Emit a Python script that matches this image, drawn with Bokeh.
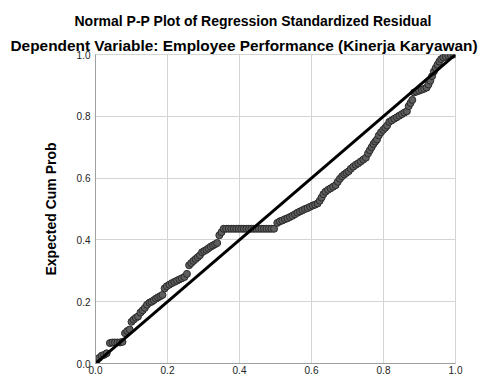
from bokeh.plotting import figure
from bokeh.models import Title, FixedTicker, Range1d
from bokeh.embed import file_html
from bokeh.resources import INLINE

# Observed cumulative probability (x) and expected cumulative probability (y)
observed_cum_prob = [
    0.003, 0.010, 0.017, 0.024, 0.031,
    0.040, 0.047, 0.054, 0.061, 0.068, 0.075,
    0.082, 0.088, 0.095,
    0.100, 0.106, 0.112, 0.118,
    0.125, 0.131, 0.137, 0.143,
    0.150, 0.156, 0.162, 0.168, 0.174, 0.180, 0.186,
    0.192, 0.198, 0.205, 0.212, 0.219, 0.226, 0.233, 0.240, 0.247, 0.254,
    0.260, 0.266, 0.272, 0.278, 0.284, 0.290,
    0.296, 0.302, 0.308, 0.314, 0.320, 0.326, 0.332, 0.338,
    0.344, 0.350,
    0.356, 0.363, 0.370, 0.377, 0.384, 0.391, 0.398, 0.405, 0.412, 0.419,
    0.426, 0.433, 0.440, 0.447, 0.454, 0.461, 0.468, 0.475, 0.482, 0.489, 0.496,
    0.505, 0.512, 0.519, 0.526, 0.533, 0.540, 0.547, 0.554, 0.561, 0.568,
    0.575, 0.582, 0.589, 0.596, 0.603, 0.610, 0.617,
    0.623, 0.628, 0.633, 0.639, 0.646, 0.653, 0.660, 0.667,
    0.673, 0.679, 0.685, 0.691, 0.697, 0.703,
    0.709, 0.716, 0.723, 0.730, 0.737, 0.744, 0.751,
    0.757, 0.762, 0.767, 0.772, 0.777, 0.782,
    0.787, 0.793, 0.799, 0.805, 0.810,
    0.816, 0.823, 0.830, 0.837, 0.844, 0.851, 0.858, 0.865,
    0.870, 0.875, 0.880,
    0.885, 0.892, 0.899, 0.906, 0.913, 0.920,
    0.925, 0.930, 0.935,
    0.940, 0.945, 0.950,
    0.955, 0.960,
    0.966, 0.973, 0.980, 0.987, 0.994,
]
expected_cum_prob = [
    0.008, 0.018, 0.025, 0.028, 0.033,
    0.066, 0.068, 0.068, 0.068, 0.068, 0.070,
    0.098, 0.105, 0.110,
    0.135, 0.142, 0.148, 0.152,
    0.165, 0.172, 0.180, 0.190,
    0.197, 0.200, 0.205, 0.210, 0.214, 0.218, 0.222,
    0.243, 0.250, 0.255, 0.260, 0.264, 0.268, 0.272, 0.276, 0.280, 0.290,
    0.318, 0.325, 0.332, 0.338, 0.344, 0.350,
    0.360, 0.364, 0.368, 0.373, 0.378, 0.382, 0.386, 0.390,
    0.415, 0.425,
    0.436, 0.436, 0.436, 0.436, 0.436, 0.436, 0.436, 0.436, 0.436, 0.436,
    0.436, 0.436, 0.436, 0.436, 0.436, 0.436, 0.436, 0.436, 0.436, 0.436, 0.436,
    0.455, 0.460, 0.463, 0.467, 0.470, 0.474, 0.478, 0.483, 0.488, 0.492,
    0.496, 0.500, 0.503, 0.507, 0.511, 0.514, 0.518,
    0.527, 0.537, 0.548, 0.556, 0.562, 0.567, 0.572, 0.577,
    0.588, 0.598, 0.606, 0.612, 0.617, 0.622,
    0.630, 0.637, 0.643, 0.648, 0.654, 0.660, 0.666,
    0.680, 0.690, 0.700, 0.710, 0.718, 0.725,
    0.738, 0.748, 0.756, 0.763, 0.770,
    0.782, 0.787, 0.792, 0.797, 0.802, 0.807, 0.812, 0.816,
    0.833, 0.843, 0.853,
    0.877, 0.880, 0.883, 0.886, 0.889, 0.893,
    0.903, 0.915, 0.930,
    0.945, 0.956, 0.967,
    0.977, 0.985,
    0.990, 0.993, 0.996, 0.998, 1.000,
]
reference_x = [0.0, 1.0]
reference_y = [0.0, 1.0]
tick_values = [0.0, 0.2, 0.4, 0.6, 0.8, 1.0]
tick_labels = {0.0: "0.0", 0.2: "0.2", 0.4: "0.4", 0.6: "0.6", 0.8: "0.8", 1.0: "1.0"}

FONT = "Liberation Sans"

p = figure(width=478, height=376, output_backend="svg", toolbar_location=None,
           x_range=Range1d(0, 1), y_range=Range1d(0, 1), title=None,
           min_border_left=95, min_border_right=23, min_border_bottom=12,
           min_border_top=54)
p.background_fill_color = "white"
p.border_fill_color = "white"
p.outline_line_color = "#d4d4d4"

p.add_layout(Title(text="Dependent Variable: Employee Performance (Kinerja Karyawan)",
                   text_font=FONT, text_font_size="15.4px", text_font_style="bold",
                   text_color="black", align="left", offset=-85, standoff=1), "above")
p.add_layout(Title(text="Normal P-P Plot of Regression Standardized Residual",
                   text_font=FONT, text_font_size="14px", text_font_style="bold",
                   text_color="black", align="left", offset=-21, standoff=11), "above")

for ax in (p.xaxis[0], p.yaxis[0]):
    ax.ticker = FixedTicker(ticks=tick_values)
    ax.major_label_overrides = tick_labels
    ax.major_label_text_font = FONT
    ax.major_label_text_font_size = "10px"
    ax.major_label_text_color = "#222222"
    ax.axis_line_color = "#a0a0a0"
    ax.major_tick_out = 0
    ax.major_tick_in = 0
    ax.minor_tick_out = 0
    ax.minor_tick_in = 0
p.xaxis.major_label_standoff = 2
p.yaxis.major_label_standoff = 5
p.yaxis.axis_label = "Expected Cum Prob"
p.yaxis.axis_label_text_font = FONT
p.yaxis.axis_label_text_font_size = "14px"
p.yaxis.axis_label_text_font_style = "bold"
p.yaxis.axis_label_text_color = "black"
p.yaxis.axis_label_standoff = 15

p.xgrid.ticker = FixedTicker(ticks=tick_values)
p.ygrid.ticker = FixedTicker(ticks=tick_values)
p.grid.grid_line_color = "#d4d4d4"
p.grid.grid_line_width = 1

p.scatter(observed_cum_prob, expected_cum_prob, size=7, marker="circle",
          fill_color="#5e5e5e", line_color="#2a2a2a", line_width=1)
p.line(reference_x, reference_y, line_color="black", line_width=3)

open("out.html", "w").write(file_html(p, INLINE))
